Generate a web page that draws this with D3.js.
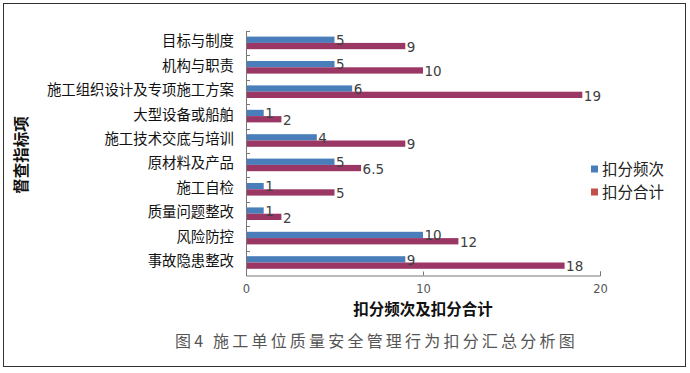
<!DOCTYPE html>
<html>
<head>
<meta charset="utf-8">
<script src="https://cdn.jsdelivr.net/npm/d3@7"></script>
<style>
  html, body { margin: 0; padding: 0; background: #fff; }
  svg { display: block; font-family: "Noto Sans CJK SC", sans-serif; }
  .cat-label { font-size: 14.4px; fill: #111; }
  .val-label { font-family: "DejaVu Sans", sans-serif; font-size: 13.5px; fill: #404040; }
  .axis-title { font-weight: bold; font-size: 15.5px; fill: #111; }
  .legend-label { font-size: 15.5px; fill: #222; }
  .caption { font-size: 16px; fill: #555; letter-spacing: 3.2px; }
</style>
</head>
<body>
<svg id="chart" width="690" height="373"></svg>
<script>
(function () {
  "use strict";

  const categories = ["目标与制度", "机构与职责", "施工组织设计及专项施工方案", "大型设备或船舶",
    "施工技术交底与培训", "原材料及产品", "施工自检", "质量问题整改", "风险防控", "事故隐患整改"];
  const freqValues = [5, 5, 6, 1, 4, 5, 1, 1, 10, 9];
  const totalValues = [9, 10, 19, 2, 9, 6.5, 5, 2, 12, 18];
  const xTicks = [0, 10, 20];
  const seriesNames = ["扣分频次", "扣分合计"];

  const svg = d3.select("#chart");
  const left = 246, right = 600, top = 31, bottom = 275;

  const x = d3.scaleLinear().domain([0, 20]).range([left, right]);
  const y = d3.scaleBand().domain(categories).range([top, bottom]);
  const barH = 6.3;

  // outer frame
  svg.append("rect")
    .attr("x", 3.5).attr("y", 3.5).attr("width", 682).attr("height", 363)
    .attr("fill", "none").attr("stroke", "#333").attr("stroke-width", 1);

  const rows = categories.map((c, i) => ({ c, f: freqValues[i], t: totalValues[i] }));

  const g = svg.append("g");

  // blue bars (扣分频次), upper
  g.selectAll("rect.freq").data(rows).enter().append("rect")
    .attr("class", "freq")
    .attr("x", x(0))
    .attr("y", (d) => y(d.c) + y.bandwidth() / 2 - barH - 0.3)
    .attr("width", (d) => x(d.f) - x(0))
    .attr("height", barH)
    .attr("fill", "#4A7EBB");

  // crimson bars (扣分合计), lower
  g.selectAll("rect.total").data(rows).enter().append("rect")
    .attr("class", "total")
    .attr("x", x(0))
    .attr("y", (d) => y(d.c) + y.bandwidth() / 2 - 0.3)
    .attr("width", (d) => x(d.t) - x(0))
    .attr("height", barH)
    .attr("fill", "#9B3764");

  // value labels
  g.selectAll("text.vf").data(rows).enter().append("text")
    .attr("class", "val-label vf")
    .attr("x", (d) => x(d.f) + 1.5)
    .attr("y", (d) => y(d.c) + y.bandwidth() / 2 - barH / 2)
    .attr("dy", "0.36em")
    .text((d) => d.f);

  g.selectAll("text.vt").data(rows).enter().append("text")
    .attr("class", "val-label vt")
    .attr("x", (d) => x(d.t) + 1.5)
    .attr("y", (d) => y(d.c) + y.bandwidth() / 2 + barH / 2 + 0.5)
    .attr("dy", "0.36em")
    .text((d) => d.t);

  // y axis: line with inward ticks at band boundaries
  const yAxisG = svg.append("g");
  yAxisG.append("line")
    .attr("x1", left + 0.5).attr("x2", left + 0.5)
    .attr("y1", top).attr("y2", bottom)
    .attr("stroke", "#777");
  const bounds = categories.map((c) => y(c));
  yAxisG.selectAll("line.yt").data(bounds).enter().append("line")
    .attr("x1", left).attr("x2", left + 4)
    .attr("y1", (d) => Math.round(d) + 0.5).attr("y2", (d) => Math.round(d) + 0.5)
    .attr("stroke", "#777");

  // category labels
  svg.selectAll("text.cat-label").data(categories).enter().append("text")
    .attr("class", "cat-label")
    .attr("x", 234)
    .attr("y", (d) => y(d) + y.bandwidth() / 2 - 2)
    .attr("dy", "0.36em")
    .attr("text-anchor", "end")
    .text((d) => d);

  // x axis
  const xAxis = d3.axisBottom(x).tickValues(xTicks).tickSize(-4).tickFormat(d3.format("d"));
  const xg = svg.append("g")
    .attr("transform", `translate(0,${bottom + 0.5})`)
    .call(xAxis);
  xg.select(".domain").attr("stroke", "#777");
  xg.selectAll(".tick line").attr("stroke", "#777");
  xg.selectAll(".tick text")
    .attr("y", 13)
    .attr("dy", "0.36em")
    .style("font-family", "DejaVu Sans, sans-serif")
    .style("font-size", "11.5px")
    .attr("fill", "#555");

  // axis titles
  svg.append("text")
    .attr("class", "axis-title")
    .attr("x", 423).attr("y", 309)
    .attr("dy", "0.36em")
    .attr("text-anchor", "middle")
    .text("扣分频次及扣分合计");

  svg.append("text")
    .attr("class", "axis-title")
    .attr("transform", "translate(21,155) rotate(-90)")
    .attr("dy", "0.36em")
    .attr("text-anchor", "middle")
    .text("督查指标项");

  // legend
  const legendColors = ["#4A7EBB", "#C0504D"];
  const lg = svg.selectAll("g.legend").data(seriesNames).enter().append("g")
    .attr("class", "legend")
    .attr("transform", (d, i) => `translate(591,${169 + i * 23})`);
  lg.append("rect")
    .attr("x", 0).attr("y", -3.5).attr("width", 7).attr("height", 7)
    .attr("fill", (d, i) => legendColors[i]);
  lg.append("text")
    .attr("class", "legend-label")
    .attr("x", 11).attr("dy", "0.36em")
    .text((d) => d);

  // caption
  svg.append("text")
    .attr("class", "caption")
    .attr("x", 175).attr("y", 341)
    .attr("dy", "0.36em")
    .text("图4 施工单位质量安全管理行为扣分汇总分析图");
})();
</script>
</body>
</html>
